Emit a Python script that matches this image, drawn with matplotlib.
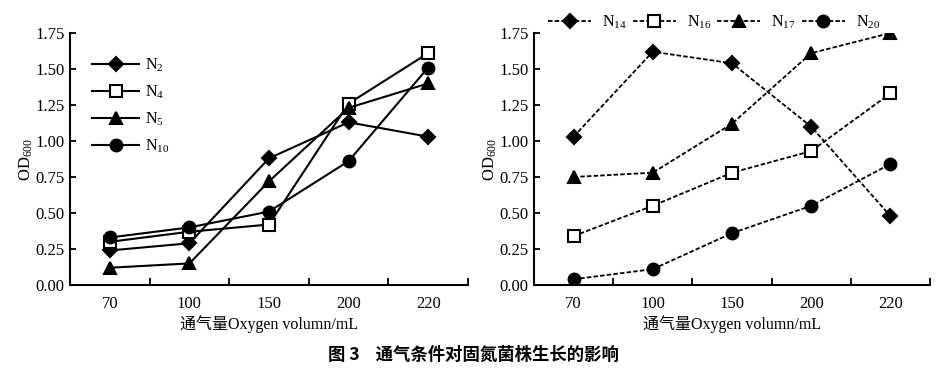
import numpy as np
import matplotlib.pyplot as plt

plt.rcParams['font.family'] = ['Liberation Serif', 'Noto Sans CJK SC']
plt.rcParams['mathtext.default'] = 'regular'

# data
volumes = ["70", "100", "150", "200", "220"]
left_labels = ["N$_{2}$", "N$_{4}$", "N$_{5}$", "N$_{10}$"]
n2 = [0.24, 0.29, 0.88, 1.13, 1.03]
n4 = [0.30, 0.37, 0.42, 1.26, 1.61]
n5 = [0.12, 0.15, 0.72, 1.23, 1.40]
n10 = [0.33, 0.40, 0.51, 0.86, 1.51]

right_labels = ["N$_{14}$", "N$_{16}$", "N$_{17}$", "N$_{20}$"]
n14 = [1.03, 1.62, 1.54, 1.10, 0.48]
n16 = [0.34, 0.55, 0.78, 0.93, 1.33]
n17 = [0.75, 0.78, 1.12, 1.61, 1.75]
n20 = [0.04, 0.11, 0.36, 0.55, 0.84]

markers = ['D', 's', '^', 'o']
mfaces = ['black', 'white', 'black', 'black']
msizes = [7, 8, 9, 8.5]

fig = plt.figure(figsize=(9.53, 3.68), dpi=100)
ax1 = fig.add_axes([0.0735, 0.2255, 0.4175, 0.6848])
ax2 = fig.add_axes([0.5603, 0.2255, 0.4155, 0.6848])

x = np.arange(len(volumes))


def style_axes(ax):
    ax.set_xlim(-0.5, 4.5)
    ax.set_ylim(0, 1.75)
    ax.spines['top'].set_visible(False)
    ax.spines['right'].set_visible(False)
    ax.spines['left'].set_linewidth(1.5)
    ax.spines['bottom'].set_linewidth(1.5)
    ax.set_xticks(x)
    ax.set_xticklabels(volumes)
    ax.set_xticks(x + 0.5, minor=True)
    ax.tick_params(axis='x', which='major', length=0, labelsize=12, pad=8)
    ax.tick_params(axis='x', which='minor', direction='in', length=5, width=1.3)
    ax.set_yticks(np.arange(0, 1.76, 0.25))
    ax.set_yticklabels(["%.2f" % v for v in np.arange(0, 1.76, 0.25)])
    ax.tick_params(axis='y', direction='in', length=4, width=1.3, labelsize=12, pad=4)
    ax.set_ylabel("OD$_{600}$", fontsize=12, labelpad=0)
    ax.set_xlabel("通气量Oxygen volumn/mL", fontsize=11.5, labelpad=2)


for ys, lab, m, fc, ms in zip([n2, n4, n5, n10], left_labels, markers, mfaces, msizes):
    ax1.plot(x, ys, color='black', lw=1.5, marker=m, markersize=ms,
             markerfacecolor=fc, markeredgecolor='black', markeredgewidth=1.5,
             label=lab)
style_axes(ax1)
ax1.legend(loc='upper left', bbox_to_anchor=(0.02, 0.965), frameon=False,
           handlelength=2.9, labelspacing=0.6, fontsize=11.5, handletextpad=0.4)

for ys, lab, m, fc, ms in zip([n14, n16, n17, n20], right_labels, markers, mfaces, msizes):
    ax2.plot(x, ys, color='black', lw=1.3, linestyle=(0, (2.5, 1.2)), marker=m,
             markersize=ms, markerfacecolor=fc, markeredgecolor='black',
             markeredgewidth=1.5, label=lab)
style_axes(ax2)
ax2.legend(loc='lower center', bbox_to_anchor=(0.455, 0.97), ncol=4, frameon=False,
           handlelength=2.7, columnspacing=0.35, fontsize=11.5, handletextpad=0.7,
           borderpad=0.1)

fig.text(0.497, 0.01, "图 3    通气条件对固氮菌株生长的影响", ha='center', va='bottom',
         fontsize=12.5, fontweight='bold', family=['Noto Sans CJK SC'])

fig.savefig("out.png", dpi=100)
